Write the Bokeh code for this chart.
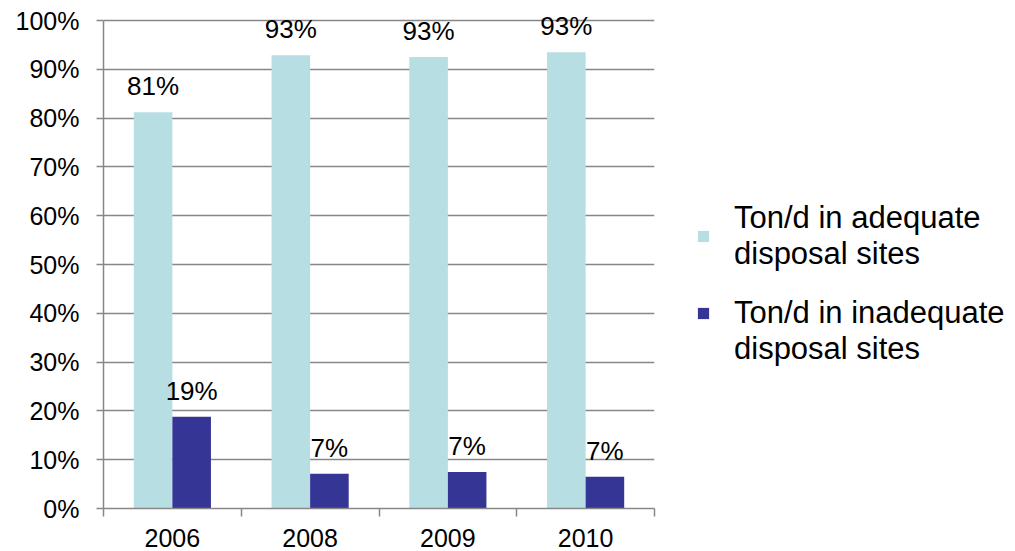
from bokeh.plotting import figure
from bokeh.layouts import row, column
from bokeh.models import (ColumnDataSource, Range1d, FixedTicker, Legend, LegendItem,
                          NumeralTickFormatter, LabelSet)
from bokeh.core.properties import value
from bokeh.transform import dodge
from bokeh.embed import file_html
from bokeh.resources import INLINE

years = ["2006", "2008", "2009", "2010"]
adequate = [0.812, 0.929, 0.925, 0.935]
inadequate = [0.188, 0.071, 0.075, 0.065]
adequate_labels = ["81%", "93%", "93%", "93%"]
inadequate_labels = ["19%", "7%", "7%", "7%"]
series_names = ["Ton/d in adequate\ndisposal sites", "Ton/d in inadequate\ndisposal sites"]
y_ticks = [0, 0.1, 0.2, 0.3, 0.4, 0.5, 0.6, 0.7, 0.8, 0.9, 1.0]

FONT = "Liberation Sans"
LIGHT = "#B7DEE2"
DARK = "#353596"
GRID = "#878787"

pos = [i + 0.5 for i in range(len(years))]
src = ColumnDataSource(dict(pos=pos, years=years, adequate=adequate, inadequate=inadequate,
                            adequate_labels=adequate_labels, inadequate_labels=inadequate_labels))

H = 551
p = figure(width=660, height=H, x_range=Range1d(0, len(years)), y_range=Range1d(0, 1 + 17 / 488),
           output_backend="svg", toolbar_location=None,
           min_border_left=103, min_border_right=6, min_border_top=3, min_border_bottom=43)
p.outline_line_color = None

bw = 0.28
r1 = p.vbar(x=dodge("pos", -bw / 2), top="adequate", width=bw, source=src,
            fill_color=LIGHT, line_color=None)
r2 = p.vbar(x=dodge("pos", bw / 2), top="inadequate", width=bw, source=src,
            fill_color=DARK, line_color=None)

for col, txt, off in (("adequate", "adequate_labels", -bw / 2), ("inadequate", "inadequate_labels", bw / 2)):
    p.add_layout(LabelSet(x=dodge("pos", off), y=col, text=txt, source=src,
                          text_align="center", text_baseline="middle", y_offset=26,
                          text_font=value(FONT), text_font_size=value("26px"),
                          text_color=value("black")))

# x axis: ticks at category boundaries (minor), labels at centres (major)
xa = p.xaxis[0]
xa.ticker = FixedTicker(ticks=pos, minor_ticks=list(range(len(years) + 1)))
xa.major_label_overrides = {pp: y for pp, y in zip(pos, years)}
xa.major_tick_out = 0
xa.major_tick_in = 0
xa.minor_tick_out = 8
xa.minor_tick_in = 0
xa.minor_tick_line_color = GRID
xa.axis_line_color = GRID
xa.axis_line_width = 1.5
xa.minor_tick_line_width = 1.5
xa.major_label_standoff = 12
xa.major_label_text_font = FONT
xa.major_label_text_font_size = "25px"
xa.major_label_text_color = "black"

ya = p.yaxis[0]
ya.bounds = (0, 1)
ya.ticker = FixedTicker(ticks=y_ticks, minor_ticks=[])
ya.formatter = NumeralTickFormatter(format="0%")
ya.major_tick_out = 7
ya.major_tick_in = 0
ya.major_tick_line_color = GRID
ya.major_tick_line_width = 1.5
ya.axis_line_color = GRID
ya.axis_line_width = 1.5
ya.major_label_standoff = 17
ya.major_label_text_font = FONT
ya.major_label_text_font_size = "25px"
ya.major_label_text_color = "black"

p.xgrid.visible = False
p.ygrid.ticker = FixedTicker(ticks=y_ticks)
p.ygrid.grid_line_color = GRID
p.ygrid.grid_line_width = 1.5

# legend panels (own figures so the legends are not clipped by the chart frame)
LW = 1015 - 660


def legend_fig(height, top, entries):
    f = figure(width=LW, height=height, x_range=Range1d(0, 1), y_range=Range1d(0, 1),
               output_backend="svg", toolbar_location=None,
               min_border_left=36, min_border_right=0, min_border_top=top, min_border_bottom=0)
    f.axis.visible = False
    f.grid.visible = False
    f.outline_line_color = None
    proxy = ColumnDataSource(dict(x=[0], top=[0]))  # zero-size swatch providers
    items = []
    for label, color, alpha in entries:
        r = f.vbar(x="x", top="top", width=0, source=proxy, fill_color=color,
                   fill_alpha=alpha, line_color=None)
        items.append(LegendItem(label=label, renderers=[r]))
    lg = Legend(items=items, location="top_left", orientation="vertical")
    lg.padding = 0
    lg.margin = 0
    lg.spacing = 0
    lg.border_line_color = None
    lg.background_fill_alpha = 0
    lg.glyph_width = 14
    lg.glyph_height = 14
    lg.label_standoff = 24
    lg.label_text_font = FONT
    lg.label_text_font_size = "31px"
    lg.label_text_line_height = 1.05
    lg.label_text_color = "black"
    f.add_layout(lg, "center")
    return f


second = series_names[1].split("\n")
qa = legend_fig(295, 200, [(series_names[0], LIGHT, 1.0)])
qb = legend_fig(H - 295, 0, [(second[0], DARK, 1.0), (second[1], DARK, 0.0)])

open("out.html", "w").write(file_html(row(p, column(qa, qb)), INLINE))
